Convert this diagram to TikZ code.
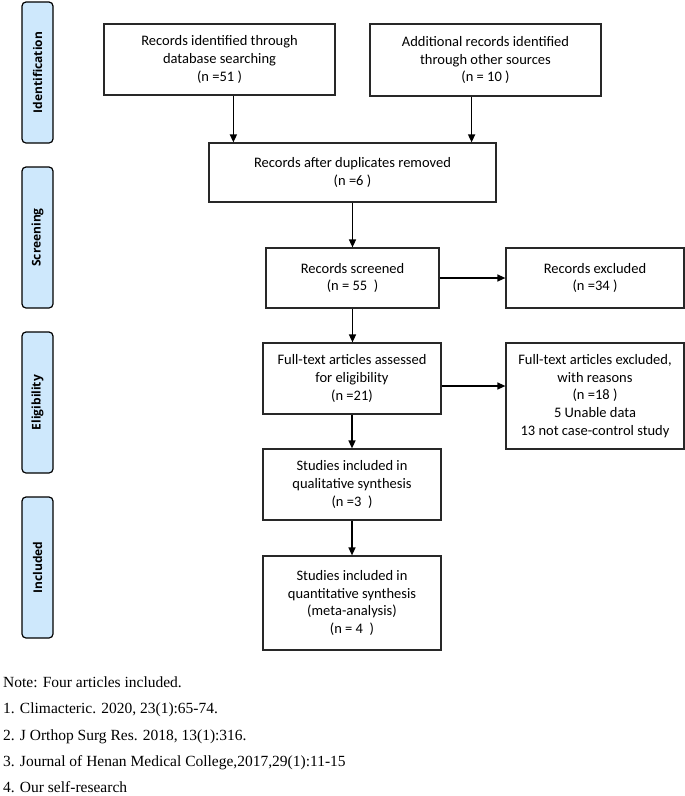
\documentclass[tikz,border=0pt]{standalone}
\usepackage{fontspec}
\setmainfont{Liberation Serif}
\newfontfamily\boxfont{Carlito}
\newfontfamily\tabfont{Open Sans}
\usepackage{xcolor}
\usepackage{tikz}
\usetikzlibrary{arrows, arrows.meta, calc}
\definecolor{tabblue}{RGB}{206,232,252}
\definecolor{edgegray}{RGB}{40,40,40}

\begin{document}
\begin{tikzpicture}[x=1pt, y=-1pt,
		flowbox/.style={draw=edgegray, line width=1.2pt, fill=white, inner sep=0pt, align=center,
			font={\boxfont\fontsize{14.5}{17.7}\selectfont}},
		phasetab/.style={draw=black, line width=1.2pt, fill=tabblue, rounded corners=4pt, rotate=90,
			minimum width=141pt, minimum height=31pt, inner sep=0pt,
			font={\tabfont\bfseries\fontsize{12}{14}\selectfont}},
		flowarrow/.style={-{Triangle[length=8pt, width=7pt]}, line width=1.4pt, black},
		notetext/.style={anchor=base west, inner sep=0pt, font={\fontsize{15.5}{18}\selectfont}}]
	\useasboundingbox (0,0) rectangle (685,796);
	% phase tabs
	\node[phasetab] (tabident) at (37.5,72.5){Identification};
	\node[phasetab] (tabscreen) at (37.5,237.5){Screening};
	\node[phasetab] (tabelig) at (37.5,402.5){Eligibility};
	\node[phasetab] (tabincl) at (37.5,567.5){Included};
	% boxes
	\node[flowbox, minimum width=231pt, minimum height=71pt] (recdb) at (219.5,59.5){Records identified through\\database searching\\(n =51 )};
	\node[flowbox, minimum width=231pt, minimum height=72pt] (recother) at (485.5,60){Additional records identified\\through other sources\\(n = 10 )};
	\node[flowbox, minimum width=287pt, minimum height=59pt] (recdup) at (352.5,172.5){Records after duplicates removed\\(n =6 )};
	\node[flowbox, minimum width=173pt, minimum height=60pt] (recscr) at (352.5,278){Records screened\\(n = 55\ \ )};
	\node[flowbox, minimum width=178pt, minimum height=60pt] (recexcl) at (595,278){Records excluded\\(n =34 )};
	\node[flowbox, minimum width=178pt, minimum height=71pt] (fulltext) at (352,378.5){Full-text articles assessed\\for eligibility\\(n =21)};
	\node[flowbox, minimum width=178pt, minimum height=106pt] (fullexcl) at (595,396){Full-text articles excluded,\\with reasons\\(n =18 )\\5 Unable data\\13 not case-control study};
	\node[flowbox, minimum width=178pt, minimum height=71pt] (qualsyn) at (352,484.5){Studies included in\\qualitative synthesis\\(n =3\ \ )};
	\node[flowbox, minimum width=178pt, minimum height=94pt] (quantsyn) at (352,603){Studies included in\\quantitative synthesis\\(meta-analysis)\\(n = 4\ \ )};
	% arrows
	\coordinate (dupin1) at ($(recdup.north west)+(25,0)$);
	\coordinate (dupin2) at ($(recdup.north east)+(-25,0)$);
	\coordinate (fullout) at ($(fulltext.east)+(0,7.5)$);
	\draw[flowarrow] (recdb.south -| dupin1) -- (dupin1);
	\draw[flowarrow] (recother.south -| dupin2) -- (dupin2);
	\draw[flowarrow] (recdup.south) -- (recscr.north);
	\draw[flowarrow] (recscr.east) -- (recexcl.west);
	\draw[flowarrow] (recscr.south) -- (recscr.south |- fulltext.north);
	\draw[flowarrow] (fullout) -- (fullout -| fullexcl.west);
	\draw[flowarrow] (fulltext.south) -- (qualsyn.north);
	\draw[flowarrow] (qualsyn.south) -- (quantsyn.north);
	% notes
	\node[notetext] (note0) at (3,687){Note: Four articles included.};
	\node[notetext] (note1) at (3,713){1. Climacteric. 2020, 23(1):65-74.};
	\node[notetext] (note2) at (3,740){2. J Orthop Surg Res. 2018, 13(1):316.};
	\node[notetext] (note3) at (3,766){3. Journal of Henan Medical College,2017,29(1):11-15};
	\node[notetext] (note4) at (3,792){4. Our self-research};
\end{tikzpicture}
\end{document}
